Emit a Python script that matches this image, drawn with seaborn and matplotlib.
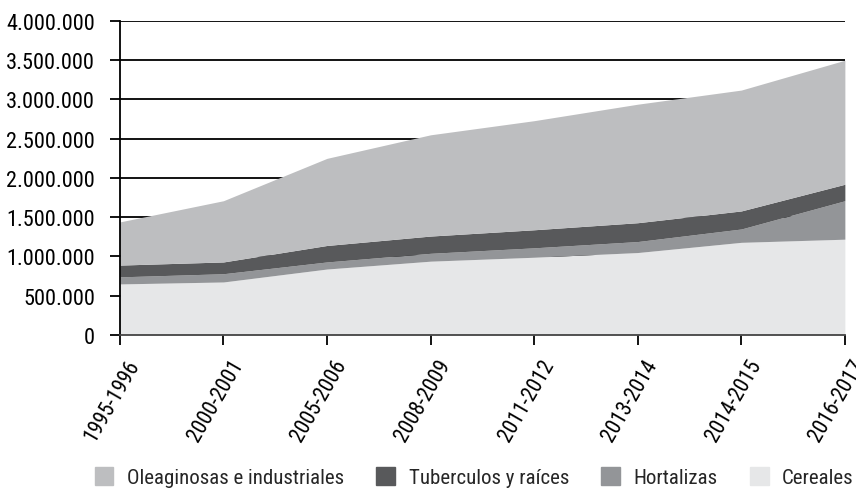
import matplotlib
matplotlib.use("Agg")
import matplotlib.pyplot as plt
import matplotlib.transforms as mtransforms
import seaborn as sns
import numpy as np
from matplotlib.patches import Patch
from matplotlib.ticker import FuncFormatter
from matplotlib import font_manager

periods = ["1995-1996", "2000-2001", "2005-2006", "2008-2009",
           "2011-2012", "2013-2014", "2014-2015", "2016-2017"]
cereales = [650000, 675000, 840000, 940000, 990000, 1050000, 1180000, 1220000]
hortalizas = [90000, 105000, 90000, 100000, 120000, 140000, 170000, 490000]
tuberculos = [150000, 150000, 210000, 220000, 230000, 240000, 230000, 210000]
oleaginosas = [550000, 780000, 1110000, 1290000, 1390000, 1510000, 1540000, 1580000]

labels = ["Cereales", "Hortalizas", "Tuberculos y raíces", "Oleaginosas e industriales"]
colors = ["#e6e7e8", "#939598", "#58595b", "#bdbec0"]

sns.set_theme(style="white")
names = {f.name for f in font_manager.fontManager.ttflist}
narrow = [n for n in ["Liberation Sans Narrow", "Arial Narrow", "Roboto Condensed", "Open Sans Condensed"] if n in names]
plt.rcParams["font.family"] = narrow + ["DejaVu Sans"]
plt.rcParams["font.stretch"] = "condensed"
fs_ytick = 16
fs_xtick = 15.5
fs_leg = 15

fig = plt.figure(figsize=(8.56, 4.89), dpi=100)
ax = fig.add_axes([0.140, 0.313, 0.847, 0.642])

x = np.arange(len(periods))
ax.set_axisbelow(True)
ax.yaxis.grid(True, color="black", linewidth=1.3)
ax.stackplot(x, cereales, hortalizas, tuberculos, oleaginosas,
             colors=colors, labels=labels, linewidth=0, zorder=2)

ax.set_xlim(0, len(periods) - 1)
ax.set_ylim(0, 4000000)
ax.set_yticks(np.arange(0, 4000001, 500000))
ax.yaxis.set_major_formatter(FuncFormatter(lambda v, p: f"{int(v):,}".replace(",", ".")))
ax.set_xticks(x)
ax.set_xticklabels(periods, rotation=60, ha="right", rotation_mode="anchor")

for s in ["top", "right"]:
    ax.spines[s].set_visible(False)
ax.spines["left"].set_color("black")
ax.spines["left"].set_linewidth(1.3)
ax.spines["bottom"].set_color("#444444")
ax.spines["bottom"].set_linewidth(1.3)
ax.spines["left"].set_zorder(3)
ax.spines["bottom"].set_zorder(3)

ax.tick_params(axis="both", which="both", direction="out", length=7, width=1.3,
               color="black", labelcolor="black", left=True, bottom=True)
ax.tick_params(axis="y", pad=11, labelsize=fs_ytick)
ax.tick_params(axis="x", pad=2, labelsize=fs_xtick)

offset = mtransforms.ScaledTranslation(0.06, -0.08, fig.dpi_scale_trans)
for lab in ax.get_xticklabels():
    lab.set_transform(lab.get_transform() + offset)

handles = [Patch(color=colors[3]), Patch(color=colors[2]), Patch(color=colors[1]), Patch(color=colors[0])]
leg_labels = [labels[3], labels[2], labels[1], labels[0]]
fig.legend(handles, leg_labels, loc="center", bbox_to_anchor=(0.554, 0.022),
           ncol=4, frameon=False, fontsize=fs_leg, handlelength=0.9, handleheight=0.9,
           handletextpad=0.65, columnspacing=1.55, borderpad=0.1)

fig.savefig("out.png", dpi=100)
